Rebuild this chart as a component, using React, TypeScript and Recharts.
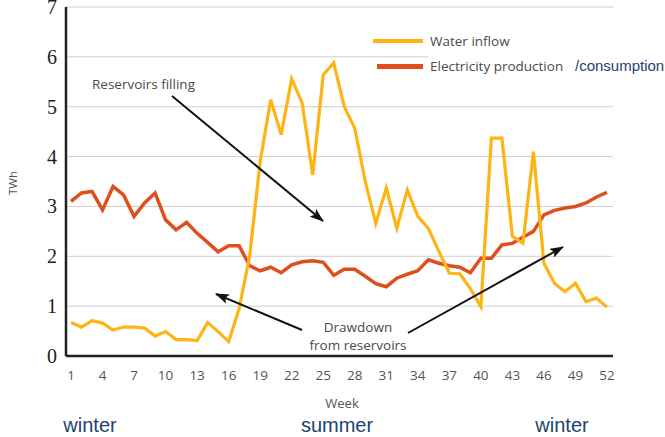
import React from 'react';
import { LineChart, Line, XAxis, YAxis, CartesianGrid, Legend } from 'recharts';

const weeks = [
  1, 2, 3, 4, 5, 6, 7, 8, 9, 10, 11, 12, 13, 14, 15, 16, 17, 18, 19, 20, 21, 22, 23, 24, 25, 26,
  27, 28, 29, 30, 31, 32, 33, 34, 35, 36, 37, 38, 39, 40, 41, 42, 43, 44, 45, 46, 47, 48, 49, 50, 51, 52,
];

const waterInflow = [
  0.67, 0.58, 0.71, 0.66, 0.52, 0.58, 0.58, 0.56, 0.4, 0.49, 0.33, 0.33, 0.31, 0.67, 0.49, 0.29,
  0.95, 2.0, 3.9, 5.14, 4.44, 5.56, 5.07, 3.63, 5.64, 5.88, 5.0, 4.57, 3.5, 2.66, 3.37, 2.56,
  3.33, 2.8, 2.56, 2.1, 1.66, 1.65, 1.35, 0.99, 4.37, 4.37, 2.4, 2.26, 4.1, 1.86, 1.46, 1.29,
  1.46, 1.09, 1.16, 0.98,
];

const electricity = [
  3.1, 3.27, 3.3, 2.93, 3.4, 3.23, 2.8, 3.07, 3.27, 2.73, 2.53, 2.68, 2.46, 2.28, 2.09, 2.21,
  2.21, 1.81, 1.71, 1.78, 1.67, 1.83, 1.89, 1.91, 1.88, 1.62, 1.74, 1.74, 1.6, 1.45, 1.39, 1.56,
  1.64, 1.71, 1.93, 1.86, 1.81, 1.78, 1.67, 1.96, 1.96, 2.23, 2.26, 2.38, 2.5, 2.83, 2.92, 2.97,
  3.0, 3.07, 3.19, 3.28,
];

const weekTicks = [1, 4, 7, 10, 13, 16, 19, 22, 25, 28, 31, 34, 37, 40, 43, 46, 49, 52];
const twhTicks = [0, 1, 2, 3, 4, 5, 6, 7];

const seriesNames = { inflow: 'Water inflow', production: 'Electricity production' };

const data = weeks.map((w, i) => ({ week: w, inflow: waterInflow[i], production: electricity[i] }));

const ORANGE = '#FDB414';
const RED = '#DF4F1D';
const GRAY = '#4a4a4a';
const NAVY = '#1C4470';
const SANS = "'Open Sans', 'Noto Sans', sans-serif";
const ARIAL = "'Liberation Sans', Arial, sans-serif";

const XTick = (props: any) => {
  const { x, y, payload } = props;
  return (
    <text x={x} y={y + 19} dy="0.35em" textAnchor="middle" fontFamily={SANS} fontSize={13.5} fill="#555">
      {payload.value}
    </text>
  );
};

const YTick = (props: any) => {
  const { x, y, payload } = props;
  return (
    <text x={x - 9} y={y} dy="0.35em" textAnchor="end" fontFamily="'Liberation Serif', 'DejaVu Serif', serif" fontSize={20} fill="#222">
      {payload.value}
    </text>
  );
};

const LegendContent = () => (
  <div style={{ position: 'relative', width: 295, height: 50 }}>
    <div style={{ position: 'absolute', left: 3, top: 9, width: 50, height: 4, background: ORANGE }} />
    <div style={{ position: 'absolute', left: 7, top: 34, width: 46, height: 4.5, background: RED }} />
    <div style={{ position: 'absolute', left: 58, top: 2, width: 185, height: 46, background: '#fff' }} />
    <div style={{ position: 'absolute', left: 60, top: 2, fontFamily: SANS, fontSize: 13.5, color: GRAY, lineHeight: '18px', whiteSpace: 'nowrap' }}>
      {seriesNames.inflow}
    </div>
    <div style={{ position: 'absolute', left: 60, top: 27, fontFamily: SANS, fontSize: 13.5, color: GRAY, lineHeight: '18px', whiteSpace: 'nowrap' }}>
      {seriesNames.production}
    </div>
    <div style={{ position: 'absolute', left: 205, top: 26, fontFamily: ARIAL, fontSize: 15, color: NAVY, lineHeight: '20px', whiteSpace: 'nowrap' }}>
      /consumption
    </div>
  </div>
);

export default function App() {
  return (
    <div style={{ position: 'absolute', left: 0, top: 0, width: 665, height: 437, background: '#fff' }}>
      <LineChart width={665} height={437} data={data} margin={{ top: 7, right: 52, left: 6, bottom: 51 }}>
        <CartesianGrid vertical={false} stroke="#cfcfcf" strokeWidth={1} />
        <XAxis
          dataKey="week"
          type="number"
          domain={[1, 52]}
          ticks={weekTicks}
          interval={0}
          padding={{ left: 5, right: 6 }}
          axisLine={{ stroke: '#222', strokeWidth: 2.5 }}
          tickLine={false}
          tickSize={0}
          tickMargin={0}
          height={30}
          tick={<XTick />}
        />
        <YAxis
          domain={[0, 7]}
          ticks={twhTicks}
          interval={0}
          width={60}
          axisLine={{ stroke: '#222', strokeWidth: 2.5 }}
          tickLine={false}
          tickSize={0}
          tickMargin={0}
          tick={<YTick />}
        />
        <Legend
          layout="vertical"
          align="center"
          verticalAlign="middle"
          content={<LegendContent />}
          wrapperStyle={{ left: 370, top: 30, width: 295, height: 50 }}
        />
        <Line
          dataKey="production"
          name={seriesNames.production}
          stroke={RED}
          strokeWidth={3.5}
          dot={false}
          isAnimationActive={false}
          type="linear"
        />
        <Line
          dataKey="inflow"
          name={seriesNames.inflow}
          stroke={ORANGE}
          strokeWidth={3.2}
          dot={false}
          isAnimationActive={false}
          type="linear"
        />
      </LineChart>
      <svg
        width={665}
        height={437}
        style={{ position: 'absolute', left: 0, top: 0, pointerEvents: 'none' }}
      >
        <defs>
          <marker id="ah" markerWidth="14" markerHeight="10" refX="13" refY="5" orient="auto" markerUnits="userSpaceOnUse">
            <path d="M0,0 L14,5 L0,10 L3,5 Z" fill="#111" />
          </marker>
        </defs>
        <text x={92} y={84} dy="0.35em" fontFamily={SANS} fontSize={13.5} fill={GRAY}>
          Reservoirs filling
        </text>
        <line x1={172} y1={96} x2={323} y2={221} stroke="#111" strokeWidth={2} markerEnd="url(#ah)" />
        <text x={358} y={327} dy="0.35em" textAnchor="middle" fontFamily={SANS} fontSize={13.5} fill={GRAY}>
          Drawdown
        </text>
        <text x={358} y={345} dy="0.35em" textAnchor="middle" fontFamily={SANS} fontSize={13.5} fill={GRAY}>
          from reservoirs
        </text>
        <line x1={302} y1={330} x2={216} y2={294} stroke="#111" strokeWidth={2} markerEnd="url(#ah)" />
        <line x1={408} y1={333} x2={563} y2={247} stroke="#111" strokeWidth={2} markerEnd="url(#ah)" />
        <text x={342} y={403} dy="0.35em" textAnchor="middle" fontFamily={SANS} fontSize={13} fill="#555">
          Week
        </text>
        <text x={13} y={183} dy="0.35em" textAnchor="middle" fontFamily={SANS} fontSize={11.5} fill="#555" transform="rotate(-90 13 183)">
          TWh
        </text>
        <text x={90} y={425} dy="0.35em" textAnchor="middle" fontFamily={ARIAL} fontSize={20} fill={NAVY}>
          winter
        </text>
        <text x={337} y={425} dy="0.35em" textAnchor="middle" fontFamily={ARIAL} fontSize={20} fill={NAVY}>
          summer
        </text>
        <text x={562} y={425} dy="0.35em" textAnchor="middle" fontFamily={ARIAL} fontSize={20} fill={NAVY}>
          winter
        </text>
      </svg>
    </div>
  );
}
